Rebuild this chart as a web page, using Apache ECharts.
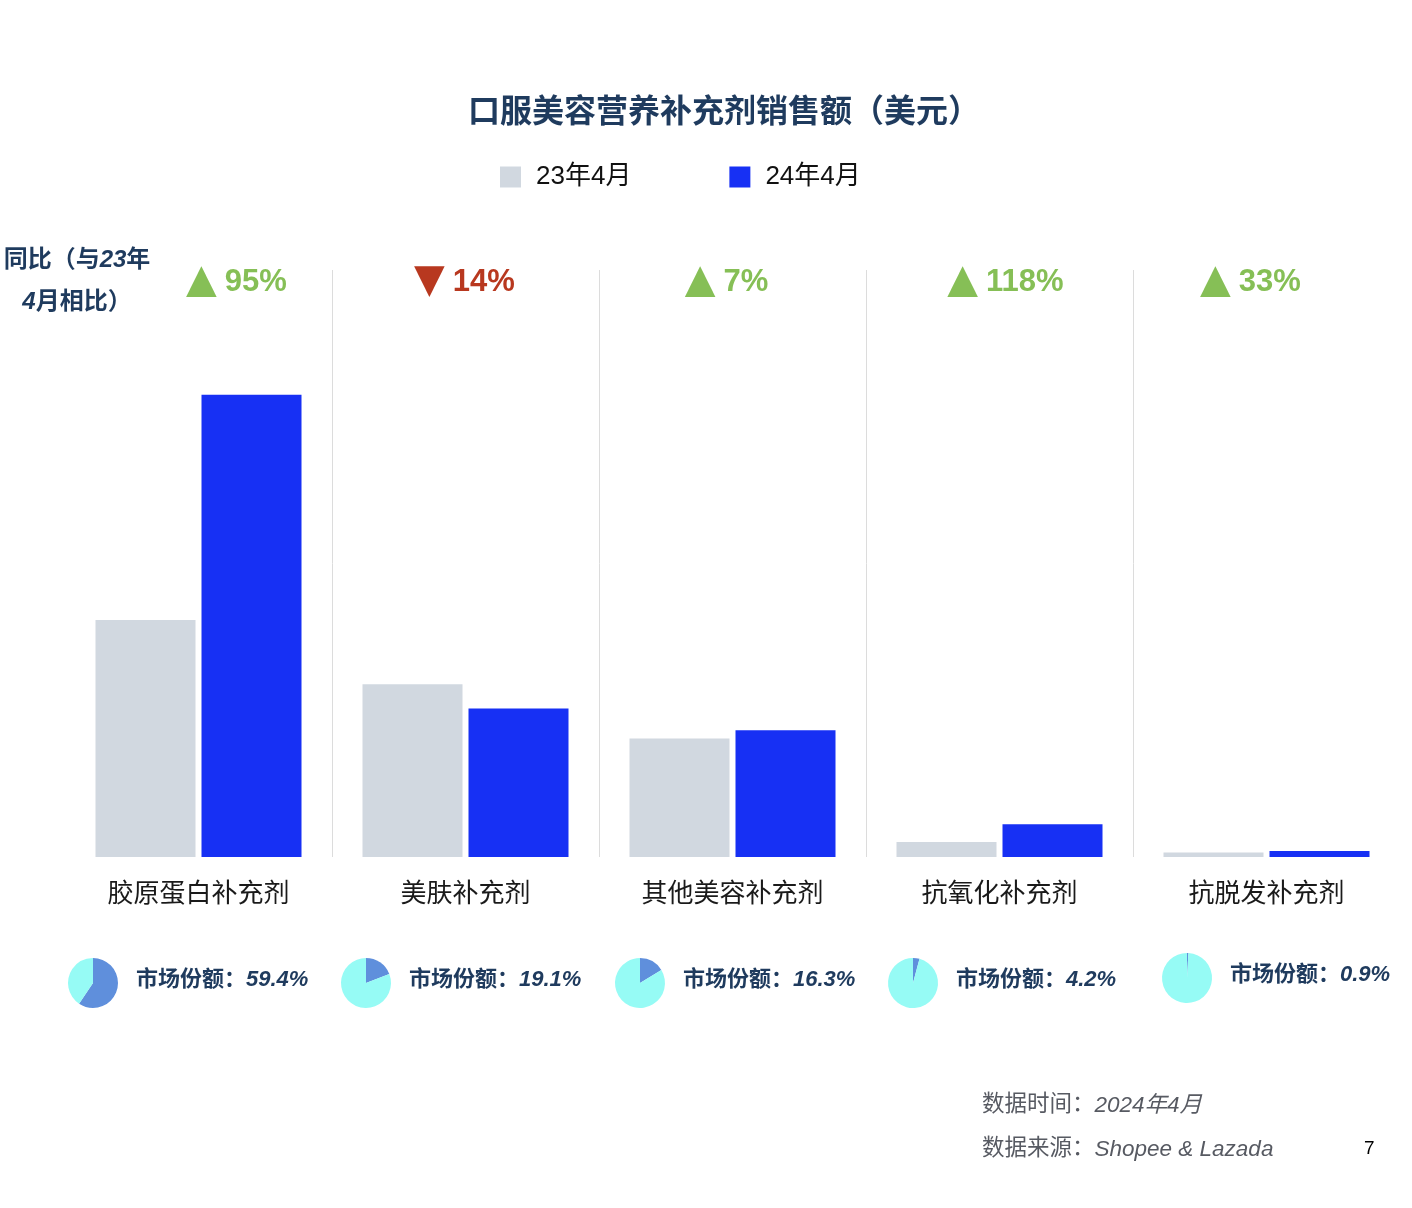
<!DOCTYPE html>
<html>
<head>
<meta charset="utf-8">
<script src="https://cdn.jsdelivr.net/npm/echarts@6/dist/echarts.min.js"></script>
<style>
html,body{margin:0;padding:0;background:#fff;}
#chart{width:1412px;height:1208px;}
</style>
</head>
<body>
<div id="chart"></div>
<script>
const categories = ['胶原蛋白补充剂', '美肤补充剂', '其他美容补充剂', '抗氧化补充剂', '抗脱发补充剂'];
const seriesNames = ['23年4月', '24年4月'];
const sales2023 = [235.8, 171.9, 117.9, 14.9, 4.5];
const sales2024 = [459.8, 147.8, 126.2, 32.5, 6.0];
const yoyChange = [95, -14, 7, 118, 33];
const marketShare = [59.4, 19.1, 16.3, 4.2, 0.9];
const footerTime = '2024年4月';
const footerSource = 'Shopee & Lazada';
const pageNumber = '7';

const FONT = '"Liberation Sans", "Noto Sans CJK SC", sans-serif';
const NAVY = '#1f3b5e';
const GREEN = '#86bf56';
const RED = '#b8381f';
const GRAY = '#575a62';

const pieCenters = [[93, 983], [366, 983], [640, 983], [913, 983], [1187, 978]];
const yoyShift = [38, -1, -6, 6, -16];

const chart = echarts.init(document.getElementById('chart'));

const pieSeries = marketShare.map((s, i) => ({
  type: 'pie',
  center: pieCenters[i],
  radius: 25,
  startAngle: 90,
  clockwise: true,
  silent: true,
  label: {show: false},
  labelLine: {show: false},
  emphasis: {disabled: true},
  data: [
    {value: s, name: '份额', itemStyle: {color: '#5f8fdc'}},
    {value: +(100 - s).toFixed(1), name: '其他', itemStyle: {color: '#96fbf5'}}
  ]
}));

const pieTitles = marketShare.map((s, i) => ({
  text: '{a|市场份额：}{b|' + s + '%}',
  left: pieCenters[i][0] + 43,
  top: pieCenters[i][1] - 14,
  padding: 0,
  textStyle: {
    rich: {
      a: {fontFamily: FONT, fontSize: 22, fontWeight: 'bold', color: NAVY},
      b: {fontFamily: FONT, fontSize: 22, fontWeight: 'bold', fontStyle: 'italic', color: NAVY}
    }
  }
}));

const yoyRich = {};
yoyChange.forEach((y, i) => {
  const up = y >= 0;
  const c = up ? GREEN : RED;
  const sh = yoyShift[i];
  yoyRich['t' + i] = {color: c, fontSize: 40, fontFamily: '"DejaVu Sans", sans-serif',
    padding: [0, 8, 0, sh > 0 ? 2 * sh : 0]};
  yoyRich['v' + i] = {color: c, fontSize: 31, fontWeight: 'bold', fontFamily: FONT,
    padding: [0, sh < 0 ? -2 * sh : 0, 0, 0]};
});

const option = {
  backgroundColor: '#fff',
  animation: false,
  textStyle: {fontFamily: FONT},
  title: [{
    text: '口服美容营养补充剂销售额（美元）',
    left: 468,
    top: 97,
    padding: 0,
    textStyle: {fontSize: 32, fontWeight: 'bold', color: NAVY, fontFamily: FONT}
  }].concat(pieTitles),
  legend: {
    data: seriesNames,
    left: 500,
    top: 164,
    padding: 0,
    itemWidth: 21,
    itemHeight: 21,
    itemGap: 98,
    icon: 'rect',
    textStyle: {fontSize: 26, color: '#111', fontFamily: FONT, padding: [0, 0, 0, 10]}
  },
  grid: {left: 65, right: 12, top: 270, bottom: 351},
  xAxis: [
    {
      type: 'category',
      data: categories,
      axisLine: {show: false},
      axisTick: {show: false},
      splitLine: {show: true, showMinLine: false, showMaxLine: false, lineStyle: {color: '#dcdcdc', width: 1}},
      axisLabel: {fontSize: 26, color: '#1a1a1a', margin: 25, fontFamily: FONT}
    },
    {
      type: 'category',
      data: categories,
      position: 'top',
      axisLine: {show: false},
      axisTick: {show: false},
      splitLine: {show: false},
      axisLabel: {
        margin: -12,
        verticalAlign: 'middle',
        formatter: function (v, idx) {
          const y = yoyChange[idx];
          return '{t' + idx + '|' + (y >= 0 ? '▲' : '▼') + '}{v' + idx + '|' + Math.abs(y) + '%}';
        },
        rich: yoyRich
      }
    }
  ],
  yAxis: {
    type: 'value', min: 0, max: 584,
    show: false,
    splitLine: {show: false}
  },
  series: [
    {
      name: seriesNames[0], type: 'bar', data: sales2023, xAxisIndex: 0,
      barWidth: 100, barGap: '6%',
      itemStyle: {color: '#d1d8e0'}
    },
    {
      name: seriesNames[1], type: 'bar', data: sales2024, xAxisIndex: 0,
      barWidth: 100, barGap: '6%',
      itemStyle: {color: '#1730f4'}
    }
  ].concat(pieSeries),
  graphic: [
    {
      type: 'text', x: 77, y: 239,
      style: {
        text: '{a|同比（与}{b|23}{a|年}\n{b|4}{a|月相比）}',
        align: 'center',
        rich: {
          a: {fontSize: 24, fontWeight: 'bold', fill: NAVY, fontFamily: FONT, lineHeight: 42},
          b: {fontSize: 24, fontWeight: 'bold', fontStyle: 'italic', fill: NAVY, fontFamily: FONT, lineHeight: 42}
        }
      }
    },
    {
      type: 'text', left: 982, top: 1094,
      style: {
        text: '{a|数据时间：}{b|' + footerTime + '}',
        rich: {
          a: {fontSize: 22.5, fill: GRAY, fontFamily: FONT},
          b: {fontSize: 22.5, fill: GRAY, fontStyle: 'italic', fontFamily: FONT}
        }
      }
    },
    {
      type: 'text', left: 982, top: 1138,
      style: {
        text: '{a|数据来源：}{b|' + footerSource + '}',
        rich: {
          a: {fontSize: 22.5, fill: GRAY, fontFamily: FONT},
          b: {fontSize: 22.5, fill: GRAY, fontStyle: 'italic', fontFamily: FONT}
        }
      }
    },
    {
      type: 'text', left: 1364, top: 1139,
      style: {text: pageNumber, fontSize: 19, fill: '#000', fontFamily: FONT}
    }
  ]
};

chart.setOption(option);
</script>
</body>
</html>
